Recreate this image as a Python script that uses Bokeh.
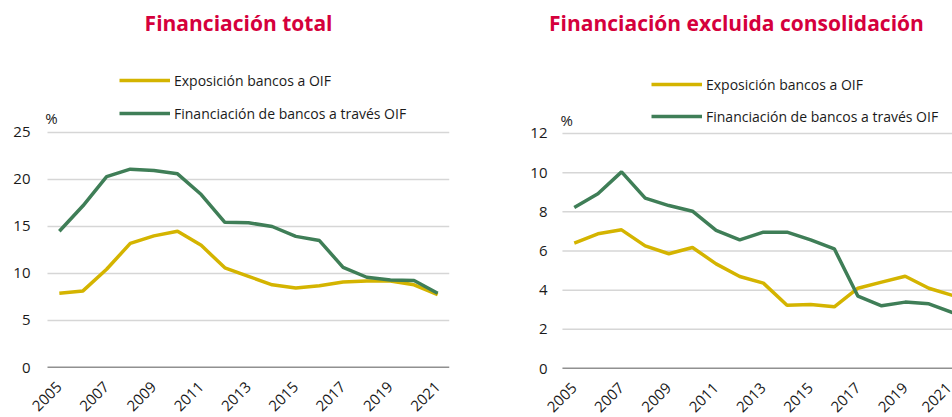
from bokeh.plotting import figure
from bokeh.layouts import row
from bokeh.models import FixedTicker, Label, Range1d
from bokeh.embed import file_html
from bokeh.resources import INLINE
import math

years = list(range(2005, 2022))

# Financiación total
total_exposicion = [7.9, 8.15, 10.45, 13.2, 14.0, 14.5, 13.0, 10.6, 9.7, 8.8, 8.45, 8.7, 9.1, 9.2, 9.2, 8.8, 7.75]
total_financiacion = [14.5, 17.2, 20.3, 21.1, 20.95, 20.6, 18.4, 15.45, 15.4, 15.0, 13.95, 13.5, 10.65, 9.6, 9.3, 9.25, 7.9]

# Financiación excluida consolidación
excl_exposicion = [6.4, 6.88, 7.08, 6.26, 5.86, 6.18, 5.34, 4.7, 4.36, 3.23, 3.27, 3.15, 4.1, 4.41, 4.71, 4.1, 3.73]
excl_financiacion = [8.22, 8.92, 10.04, 8.7, 8.32, 8.03, 7.05, 6.57, 6.96, 6.96, 6.57, 6.11, 3.69, 3.2, 3.39, 3.3, 2.86]

titles = ["Financiación total", "Financiación excluida consolidación"]
series_names = ["Exposición bancos a OIF", "Financiación de bancos a través OIF"]
x_ticks = list(range(2005, 2022, 2))
y_ticks_total = [0, 5, 10, 15, 20, 25]
y_ticks_excl = [0, 2, 4, 6, 8, 10, 12]

YELLOW = "#D4B400"
GREEN = "#3F7E57"
RED = "#D5003C"
FONT = "Open Sans"
TXT = "#1a1a1a"


def make_panel(title, exp, fin, yticks, yend, xstart, xend, grid_x0, grid_x1,
               frame_w, frame_h, mb_left, mb_right, mb_bottom, ylab_standoff,
               title_x, title_y, pct_x, pct_y, leg_loc, leg_spacing):
    p = figure(frame_width=frame_w, frame_height=frame_h, output_backend="svg",
               toolbar_location=None,
               x_range=Range1d(xstart, xend), y_range=Range1d(0, yend),
               min_border_left=mb_left, min_border_right=mb_right,
               min_border_top=0, min_border_bottom=mb_bottom)
    p.outline_line_color = None
    p.background_fill_color = "white"
    p.border_fill_color = "white"
    p.xgrid.visible = False
    p.ygrid.visible = False

    # horizontal grid lines at the y ticks, spanning the data area only
    grid_vals = [t for t in yticks if t != 0]
    p.segment(x0=[grid_x0] * len(grid_vals), x1=[grid_x1] * len(grid_vals),
              y0=grid_vals, y1=grid_vals, line_color="#d6d6d6", line_width=1.5)
    # baseline at zero
    p.segment(x0=[grid_x0], x1=[grid_x1], y0=[0], y1=[0],
              line_color="#222222", line_width=1.5)

    p.line(years, exp, line_color=YELLOW, line_width=3.5, legend_label=series_names[0])
    p.line(years, fin, line_color=GREEN, line_width=3.5, legend_label=series_names[1])

    p.yaxis.ticker = FixedTicker(ticks=yticks)
    p.yaxis.axis_line_color = None
    p.yaxis.major_tick_line_color = None
    p.yaxis.minor_tick_line_color = None
    p.yaxis.major_tick_out = 0
    p.yaxis.major_tick_in = 0
    p.yaxis.major_label_standoff = ylab_standoff
    p.yaxis.major_label_text_font = FONT
    p.yaxis.major_label_text_font_size = "15px"
    p.yaxis.major_label_text_color = TXT

    p.xaxis.ticker = FixedTicker(ticks=x_ticks)
    p.xaxis.axis_line_color = None
    p.xaxis.major_tick_line_color = None
    p.xaxis.minor_tick_line_color = None
    p.xaxis.major_tick_out = 0
    p.xaxis.major_tick_in = 0
    p.xaxis.major_label_orientation = math.pi / 4
    p.xaxis.major_label_standoff = 17
    p.xaxis.major_label_text_font = FONT
    p.xaxis.major_label_text_font_size = "15px"
    p.xaxis.major_label_text_color = TXT

    p.add_layout(Label(x=title_x, y=title_y, text=title, text_align="center",
                       text_baseline="middle", text_font=FONT, text_font_style="bold",
                       text_font_size="21px", text_color=RED))
    p.add_layout(Label(x=pct_x, y=pct_y, text="%", text_align="left",
                       text_baseline="bottom", text_font=FONT,
                       text_font_size="15px", text_color=TXT))

    lg = p.legend[0]
    lg.location = leg_loc
    lg.glyph_width = 51
    lg.glyph_height = 20
    lg.label_height = 20
    lg.label_standoff = 4
    lg.spacing = leg_spacing
    lg.padding = 0
    lg.margin = 0
    lg.background_fill_alpha = 0
    lg.border_line_color = None
    lg.label_text_font = FONT
    lg.label_text_font_size = "14px"
    lg.label_text_color = TXT
    return p


p1 = make_panel(titles[0], total_exposicion, total_financiacion, y_ticks_total,
                39.04, 2004.204, 2021.5, 2004.5, 2021.5,
                409, 367, 40, 31, 50, 10,
                2012.58, 36.6, 2004.41, 25.47, (79, 244), 13)
p2 = make_panel(titles[1], excl_exposicion, excl_financiacion, y_ticks_excl,
                18.79, 2003.91, 2021.0, 2004.5, 2021.0,
                404, 368, 68, 0, 49, 1,
                2011.86, 17.62, 2004.42, 12.2, (103, 242), 12)

layout = row(p1, p2)
open("out.html", "w").write(file_html(layout, INLINE))
